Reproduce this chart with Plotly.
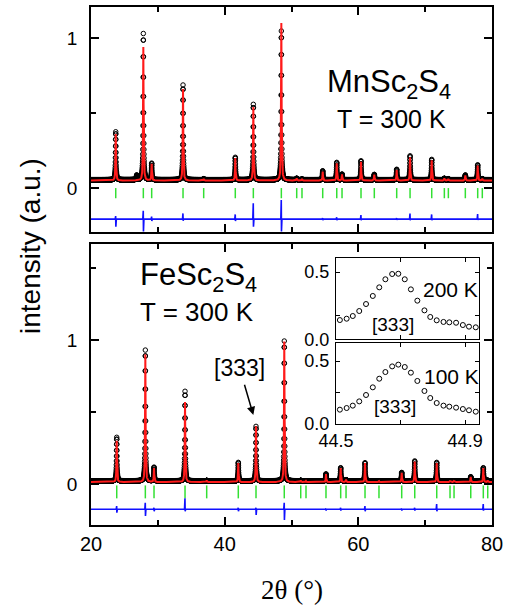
import numpy as np
import plotly.graph_objects as go

# ---------------- data ----------------
# MnSc2S4, T = 300 K (top panel)
mn_pos = [23.70, 27.83, 29.08, 33.77, 36.86, 41.59, 44.29, 48.48, 50.78, 51.57, 54.67, 56.77,
          57.56, 60.40, 62.39, 65.74, 67.74, 70.98, 72.87, 73.47, 76.01, 77.86, 78.55]
mn_obs = [0.375, 1.03, 0.165, 0.687, 0.062, 0.205, 0.558, 1.047, 0.065, 0.06, 0.115, 0.171,
          0.093, 0.182, 0.091, 0.125, 0.215, 0.191, 0.065, 0.062, 0.087, 0.155, 0.062]
mn_calc = [0.36, 0.94, 0.16, 0.66, 0.062, 0.20, 0.54, 1.10, 0.065, 0.06, 0.11, 0.165,
           0.09, 0.175, 0.09, 0.12, 0.205, 0.185, 0.065, 0.062, 0.085, 0.15, 0.062]
mn_diff_hi = [-0.187, -0.151, -0.19, -0.169, -0.207, -0.176, -0.102, -0.08, -0.207, -0.207, -0.2, -0.195,
              -0.207, -0.18, -0.207, -0.2, -0.17, -0.176, -0.207, -0.207, -0.207, -0.173, -0.207]
mn_diff_lo = [-0.258, -0.29, -0.22, -0.218, -0.207, -0.22, -0.258, -0.29, -0.207, -0.207, -0.215, -0.215,
              -0.207, -0.215, -0.207, -0.212, -0.215, -0.215, -0.207, -0.207, -0.207, -0.212, -0.207]
mn_extra_pos = [26.84]
mn_extra_obs = [0.085]
mn_bg_obs = 0.055
mn_bg_calc = 0.05
mn_diff_base = -0.207
mn_tick_top, mn_tick_bot = 0.0, -0.068

# FeSc2S4, T = 300 K (bottom panel)
fe_pos = [23.85, 28.13, 29.43, 34.07, 37.31, 42.04, 44.69, 48.92, 51.38, 52.17, 55.16, 57.36,
          58.16, 61.00, 63.09, 66.49, 68.44, 71.73, 73.72, 74.32, 76.82, 78.70, 79.36]
fe_obs = [0.324, 0.93, 0.116, 0.644, 0.025, 0.15, 0.40, 0.993, 0.025, 0.02, 0.07, 0.113,
          0.03, 0.148, 0.02, 0.08, 0.16, 0.15, 0.02, 0.02, 0.05, 0.113, 0.025]
fe_calc = [0.30, 0.90, 0.11, 0.57, 0.025, 0.145, 0.40, 0.99, 0.025, 0.02, 0.068, 0.11,
           0.03, 0.145, 0.02, 0.078, 0.155, 0.145, 0.02, 0.02, 0.05, 0.11, 0.025]
fe_diff_hi = [-0.153, -0.13, -0.165, -0.10, -0.176, -0.165, -0.165, -0.13, -0.176, -0.176, -0.17, -0.165,
              -0.176, -0.153, -0.176, -0.17, -0.165, -0.14, -0.176, -0.176, -0.176, -0.14, -0.176]
fe_diff_lo = [-0.199, -0.222, -0.19, -0.19, -0.176, -0.19, -0.215, -0.25, -0.176, -0.176, -0.185, -0.185,
              -0.176, -0.19, -0.176, -0.185, -0.185, -0.19, -0.176, -0.176, -0.176, -0.185, -0.176]
fe_bg_obs = 0.021
fe_bg_calc = 0.013
fe_diff_base = -0.176
fe_tick_top, fe_tick_bot = -0.01, -0.10

# Insets: [333] reflection of FeSc2S4
inset_x = [44.512, 44.533, 44.552, 44.572, 44.593, 44.614, 44.634, 44.653, 44.674, 44.693, 44.713, 44.732,
           44.752, 44.774, 44.792, 44.812, 44.833, 44.851, 44.872, 44.893, 44.912, 44.933, 44.954]
inset_200K = [0.143, 0.153, 0.173, 0.21, 0.262, 0.322, 0.386, 0.446, 0.485, 0.487, 0.446, 0.371,
              0.287, 0.215, 0.166, 0.141, 0.129, 0.126, 0.123, 0.106, 0.094, 0.089, 0.094]
inset_100K = [0.112, 0.125, 0.144, 0.178, 0.229, 0.290, 0.359, 0.412, 0.457, 0.471, 0.452, 0.407,
              0.341, 0.261, 0.205, 0.165, 0.144, 0.136, 0.128, 0.117, 0.107, 0.096, 0.083]

x_ticks = [20, 40, 60, 80]
x_minor = [30, 50, 70]

# ---------------- helpers ----------------
W, H = 516, 606
HW = 0.046  # peak half width (deg)
grid = np.arange(20.0, 80.0001, 0.01)


def profile(pos, heights, bg):
    y = np.full_like(grid, bg)
    for p, h in zip(pos, heights):
        y += (h - bg) / (1.0 + ((grid - p) / HW) ** 2)
    return y


def ticks_xy(pos, y0, y1):
    xs, ys = [], []
    for p in pos:
        xs += [p, p, None]
        ys += [y0, y1, None]
    return xs, ys


def diff_xy(pos, hi, lo, base):
    xs, ys = [20.0], [base]
    for p, a, b in zip(pos, hi, lo):
        xs += [p - 0.08, p - 0.01, p + 0.02, p + 0.09]
        ys += [base, a, b, base]
    xs.append(80.0)
    ys.append(base)
    return xs, ys


def px(v):
    return v / W


def py(v):
    return 1 - v / H


FONT = "Liberation Sans, Arial, Helvetica, sans-serif"
RED = "#ff1a1a"
GREEN = "#33e033"
BLUE = "#1010ff"

fig = go.Figure()

panels = [
    ("x2", "y2", mn_pos, mn_obs + mn_extra_obs, mn_pos + mn_extra_pos, mn_calc, mn_bg_obs, mn_bg_calc,
     mn_diff_hi, mn_diff_lo, mn_diff_base, mn_tick_top, mn_tick_bot),
    ("x", "y", fe_pos, fe_obs, fe_pos, fe_calc, fe_bg_obs, fe_bg_calc,
     fe_diff_hi, fe_diff_lo, fe_diff_base, fe_tick_top, fe_tick_bot),
]
for xa, ya, pos, obs_h, obs_pos, calc_h, bgo, bgc, dhi, dlo, dbase, t0, t1 in panels:
    fig.add_trace(go.Scatter(x=grid, y=profile(obs_pos, obs_h, bgo), mode="markers", xaxis=xa, yaxis=ya,
                             marker=dict(symbol="circle-open", size=4.5, color="black", line=dict(width=1)),
                             showlegend=False, hoverinfo="skip"))
    fig.add_trace(go.Scatter(x=grid, y=profile(pos, calc_h, bgc), mode="lines", xaxis=xa, yaxis=ya,
                             line=dict(color=RED, width=2), showlegend=False, hoverinfo="skip"))
    tx, ty = ticks_xy(pos, t0, t1)
    fig.add_trace(go.Scatter(x=tx, y=ty, mode="lines", xaxis=xa, yaxis=ya,
                             line=dict(color=GREEN, width=1.5), showlegend=False, hoverinfo="skip"))
    dx, dy = diff_xy(pos, dhi, dlo, dbase)
    fig.add_trace(go.Scatter(x=dx, y=dy, mode="lines", xaxis=xa, yaxis=ya,
                             line=dict(color=BLUE, width=1.6), showlegend=False, hoverinfo="skip"))

for xa, ya, yy in [("x3", "y3", inset_200K), ("x4", "y4", inset_100K)]:
    fig.add_trace(go.Scatter(x=inset_x, y=yy, mode="markers", xaxis=xa, yaxis=ya,
                             marker=dict(symbol="circle-open", size=5, color="black", line=dict(width=1)),
                             showlegend=False, hoverinfo="skip"))

axis_common = dict(showline=True, linecolor="black", linewidth=1.6, mirror="allticks", ticks="inside",
                   tickcolor="black", tickwidth=1.5, showgrid=False, zeroline=False, automargin=False,
                   tickfont=dict(family=FONT, size=20, color="black"))
ytick_font = dict(family=FONT, size=19, color="black")


def minor(vals, ln=5, w=1.5):
    return dict(tickvals=vals, ticklen=ln, ticks="inside", tickcolor="black", tickwidth=w)


main_x_dom = [px(91), px(492)]
fig.update_layout(
    width=W, height=H, margin=dict(l=0, r=0, t=0, b=0, pad=0, autoexpand=False),
    paper_bgcolor="white", plot_bgcolor="rgba(0,0,0,0)",
    xaxis=dict(domain=main_x_dom, anchor="y", range=[20, 80], tickvals=x_ticks, ticklen=8,
               minor=minor(x_minor), **axis_common),
    yaxis=dict(domain=[py(525), py(244)], anchor="x", range=[-0.285, 1.667], tickvals=[0, 1], ticklen=8,
               minor=minor([0.5, 1.5]), ticklabelstandoff=8, **{**axis_common, "tickfont": ytick_font}),
    xaxis2=dict(domain=main_x_dom, anchor="y2", range=[20, 80], tickvals=x_ticks, ticklen=8,
                showticklabels=False, minor=minor(x_minor), **axis_common),
    yaxis2=dict(domain=[py(232), py(7)], anchor="x2", range=[-0.293, 1.207], tickvals=[0, 1], ticklen=8,
                minor=minor([0.5]), ticklabelstandoff=8, **{**axis_common, "tickfont": ytick_font}),
)

inset_common = dict(showline=True, linecolor="black", linewidth=1.4, mirror="allticks", ticks="inside",
                    tickcolor="black", tickwidth=1.2, ticklen=4, showgrid=False, zeroline=False,
                    automargin=False, tickfont=dict(family=FONT, size=18, color="black"))
in_x_dom = [px(336), px(479)]
fig.update_layout(
    xaxis3=dict(domain=in_x_dom, anchor="y3", range=[44.5, 44.943], tickvals=[44.5, 44.9],
                minor=minor([44.7], 4, 1.2), showticklabels=False, **inset_common),
    yaxis3=dict(domain=[py(339.3), py(258)], anchor="x3", range=[0, 0.604], tickvals=[0, 0.5],
                tickformat=".1f", minor=minor([0.18], 4, 1.2), ticklabelstandoff=2, **inset_common),
    xaxis4=dict(domain=in_x_dom, anchor="y4", range=[44.5, 44.943], tickvals=[44.5, 44.9],
                tickformat=".1f", minor=minor([44.7], 4, 1.2), **inset_common),
    yaxis4=dict(domain=[py(423.7), py(342.7)], anchor="x4", range=[0, 0.646], tickvals=[0, 0.5],
                tickformat=".1f", minor=minor([0.25], 4, 1.2), ticklabelstandoff=2, **inset_common),
)


def label(text, x, y, size, xanchor="left", family=FONT, angle=0):
    fig.add_annotation(text=text, x=px(x), y=py(y), xref="paper", yref="paper", showarrow=False,
                       xanchor=xanchor, yanchor="middle", textangle=angle,
                       font=dict(family=family, size=size, color="black"))


label("MnSc<sub>2</sub>S<sub>4</sub>", 325, 84, 31)
label("T = 300 K", 335, 119, 25)
label("FeSc<sub>2</sub>S<sub>4</sub>", 138, 277, 31)
label("T = 300 K", 138, 312, 26)
label("[333]", 239.5, 368, 23, xanchor="center")
label("200 K", 450, 289, 21, xanchor="center")
label("[333]", 393, 324, 19, xanchor="center")
label("100 K", 451, 376, 21, xanchor="center")
label("[333]", 395, 406, 19, xanchor="center")
label("intensity (a.u.)", 30, 246, 28, xanchor="center", angle=-90)
label("2θ (°)", 292, 590, 27, xanchor="center", family="Liberation Serif, Times New Roman, serif")

fig.add_annotation(x=44.29, y=0.479, xref="x", yref="y", text="", showarrow=True,
                   ax=-9.3, ay=-31.7, axref="pixel", ayref="pixel",
                   arrowhead=2, arrowsize=1.1, arrowwidth=1.5, arrowcolor="black")

fig.write_html("out.html", config={"displayModeBar": False},
               post_script="document.body.style.margin='0';document.body.style.overflow='hidden';")
